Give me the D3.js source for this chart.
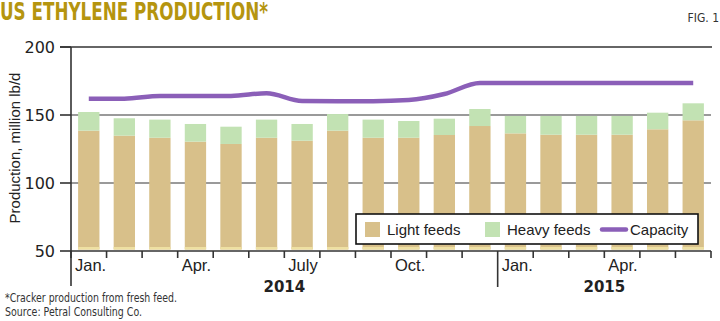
<!DOCTYPE html>
<html>
<head>
<meta charset="utf-8">
<script src="https://cdn.jsdelivr.net/npm/d3@7"></script>
<style>
  body { margin: 0; background: #fff; }
  svg { display: block; }
</style>
</head>
<body>
<div id="chart"></div>
<script>
// monthly data, Jan 2014 - Jun 2015
var months = ['Jan.', '', '', 'Apr.', '', '', 'July', '', '', 'Oct.', '', '', 'Jan.', '', '', 'Apr.', '', ''];
var years = [{label: '2014', from: 0, to: 12}, {label: '2015', from: 12, to: 18}];
var light_feeds = [138.5, 134.8, 133.3, 130.4, 128.7, 133.3, 131.1, 138.5, 133.3, 133.3, 135.3, 141.9, 136.5, 135.5, 135.5, 135.5, 139.5, 146.1];
var heavy_feeds = [13.7, 12.8, 13.3, 13.0, 12.7, 13.3, 12.3, 12.2, 13.3, 12.3, 12.0, 12.5, 12.8, 13.8, 13.8, 13.8, 12.2, 12.5];
var capacity = [162, 162, 164, 164, 164, 166, 160.3, 160.2, 160.2, 161, 165.4, 173.5, 173.5, 173.5, 173.5, 173.5, 173.5, 173.5];
var y_ticks = [50, 100, 150, 200];

var width = 720, height = 321;
// plot edges (note: "top" is reserved on window)
var plot_left = 71, plot_right = 711, plot_top = 47, plot_bottom = 251;

var col_light = '#d8c08a';
var col_heavy = '#c2e2b3';
var col_cap = '#8b5fb8';
var col_text = '#222';

var svg = d3.select('#chart').append('svg')
  .attr('width', width)
  .attr('height', height);

var x = d3.scaleBand()
  .domain(d3.range(months.length))
  .range([plot_left, plot_right])
  .paddingInner(0.4)
  .paddingOuter(0.2);

var y = d3.scaleLinear()
  .domain([50, 200])
  .range([plot_bottom, plot_top]);

// left edge of each month slot
function slot_start(i) {
  return x(i) - x.step() * x.paddingInner() / 2;
}

// gridlines
svg.append('g')
  .selectAll('line')
  .data([100, 150])
  .enter().append('line')
  .attr('x1', plot_left).attr('x2', plot_right)
  .attr('y1', function(d) { return y(d); })
  .attr('y2', function(d) { return y(d); })
  .attr('stroke', '#9a9a9a')
  .attr('stroke-width', 2);

// stacked bars
var bars = svg.append('g');

bars.selectAll('.light')
  .data(light_feeds)
  .enter().append('rect')
  .attr('class', 'light')
  .attr('x', function(d, i) { return x(i); })
  .attr('width', x.bandwidth())
  .attr('y', function(d) { return y(d); })
  .attr('height', function(d) { return y(50) - 1.5 - y(d); })
  .attr('fill', col_light);

bars.selectAll('.heavy')
  .data(heavy_feeds)
  .enter().append('rect')
  .attr('class', 'heavy')
  .attr('x', function(d, i) { return x(i); })
  .attr('width', x.bandwidth())
  .attr('y', function(d, i) { return y(light_feeds[i] + d); })
  .attr('height', function(d, i) { return y(light_feeds[i]) - y(light_feeds[i] + d); })
  .attr('fill', col_heavy);

// pale strip at bar bottoms
bars.selectAll('.foot')
  .data(light_feeds)
  .enter().append('rect')
  .attr('class', 'foot')
  .attr('x', function(d, i) { return x(i); })
  .attr('width', x.bandwidth())
  .attr('y', y(50) - 4)
  .attr('height', 2.5)
  .attr('fill', '#eee0a2');

// capacity line
var cap_line = d3.line()
  .x(function(d, i) { return x(i) + x.bandwidth() / 2; })
  .y(function(d) { return y(d); })
  .curve(d3.curveMonotoneX);

svg.append('path')
  .datum(capacity)
  .attr('d', cap_line)
  .attr('fill', 'none')
  .attr('stroke', col_cap)
  .attr('stroke-width', 4.5);

// frame: top, left, bottom
var frame = svg.append('g').attr('stroke', '#333').attr('stroke-width', 1.6);
frame.append('line').attr('x1', plot_left - 11).attr('x2', plot_right + 1).attr('y1', y(200)).attr('y2', y(200));
frame.append('line').attr('x1', plot_left).attr('x2', plot_right).attr('y1', y(50)).attr('y2', y(50));
frame.append('line').attr('x1', plot_left).attr('x2', plot_left).attr('y1', y(200)).attr('y2', 286);

// y ticks
frame.selectAll('.ytick')
  .data(y_ticks)
  .enter().append('line')
  .attr('x1', plot_left - 11).attr('x2', plot_left)
  .attr('y1', function(d) { return y(d); })
  .attr('y2', function(d) { return y(d); });

svg.append('g')
  .selectAll('text')
  .data(y_ticks)
  .enter().append('text')
  .attr('x', 55)
  .attr('y', function(d) { return y(d) + 6; })
  .attr('text-anchor', 'end')
  .style('font-family', 'DejaVu Sans, sans-serif')
  .style('font-size', '16px')
  .attr('fill', col_text)
  .text(function(d) { return d; });

// x ticks at month boundaries
var bounds = d3.range(months.length + 1);
frame.selectAll('.xtick')
  .data(bounds)
  .enter().append('line')
  .attr('x1', function(d) { return d < months.length ? slot_start(d) : plot_right; })
  .attr('x2', function(d) { return d < months.length ? slot_start(d) : plot_right; })
  .attr('y1', y(50))
  .attr('y2', function(d) { return d === 12 ? 287 : 258; });

svg.append('g')
  .selectAll('text')
  .data(months)
  .enter().append('text')
  .attr('x', function(d, i) { return slot_start(i) + 4; })
  .attr('y', 271)
  .style('font-family', 'Liberation Sans, Arial, sans-serif')
  .style('font-size', '16.5px')
  .attr('fill', col_text)
  .text(function(d) { return d; });

svg.append('g')
  .selectAll('text')
  .data(years)
  .enter().append('text')
  .attr('x', function(d) { return (slot_start(d.from) + (d.to < months.length ? slot_start(d.to) : plot_right)) / 2; })
  .attr('y', 292)
  .attr('text-anchor', 'middle')
  .style('font-family', 'DejaVu Sans, sans-serif')
  .style('font-weight', 'bold')
  .style('font-size', '15px')
  .attr('fill', col_text)
  .text(function(d) { return d.label; });

// y axis title
svg.append('text')
  .attr('transform', 'translate(20,148) rotate(-90)')
  .attr('text-anchor', 'middle')
  .style('font-family', 'Liberation Sans, Arial, sans-serif')
  .style('font-size', '15px')
  .attr('fill', col_text)
  .text('Production, million lb/d');

// legend
var legend = svg.append('g');
legend.append('rect')
  .attr('x', 356).attr('y', 214)
  .attr('width', 342).attr('height', 30)
  .attr('fill', '#fff')
  .attr('stroke', '#111')
  .attr('stroke-width', 1.6);

var legend_items = [
  {label: 'Light feeds', color: col_light, kind: 'box', x: 365},
  {label: 'Heavy feeds', color: col_heavy, kind: 'box', x: 485},
  {label: 'Capacity', color: col_cap, kind: 'line', x: 602}
];

legend_items.forEach(function(item) {
  if (item.kind === 'box') {
    legend.append('rect')
      .attr('x', item.x).attr('y', 222)
      .attr('width', 15).attr('height', 15)
      .attr('fill', item.color);
  } else {
    legend.append('line')
      .attr('x1', item.x).attr('x2', item.x + 24)
      .attr('y1', 229.5).attr('y2', 229.5)
      .attr('stroke', item.color)
      .attr('stroke-width', 4.5)
      .attr('stroke-linecap', 'round');
  }
  legend.append('text')
    .attr('x', item.kind === 'box' ? item.x + 22 : item.x + 28)
    .attr('y', 235)
    .style('font-family', 'Liberation Sans, Arial, sans-serif')
    .style('font-size', '15px')
    .attr('fill', col_text)
    .text(item.label);
});

// title and notes
svg.append('text')
  .attr('x', 0).attr('y', 20)
  .attr('textLength', 268)
  .attr('lengthAdjust', 'spacingAndGlyphs')
  .style('font-family', 'Liberation Sans Narrow, DejaVu Sans Condensed, sans-serif')
  .style('font-weight', 'bold')
  .style('font-size', '24px')
  .attr('fill', '#b5950f')
  .text('US ETHYLENE PRODUCTION*');

svg.append('text')
  .attr('x', 719).attr('y', 22)
  .attr('text-anchor', 'end')
  .style('font-family', 'Liberation Sans Narrow, DejaVu Sans Condensed, sans-serif')
  .style('font-size', '12px')
  .attr('fill', '#333')
  .text('FIG. 1');

var notes = [
  {text: '*Cracker production from fresh feed.', y: 302, len: 172},
  {text: 'Source: Petral Consulting Co.', y: 316, len: 137}
];
svg.append('g')
  .selectAll('text')
  .data(notes)
  .enter().append('text')
  .attr('x', 5)
  .attr('y', function(d) { return d.y; })
  .attr('textLength', function(d) { return d.len; })
  .attr('lengthAdjust', 'spacingAndGlyphs')
  .style('font-family', 'Liberation Sans Narrow, DejaVu Sans Condensed, sans-serif')
  .style('font-size', '11.5px')
  .attr('fill', '#333')
  .text(function(d) { return d.text; });
</script>
</body>
</html>
